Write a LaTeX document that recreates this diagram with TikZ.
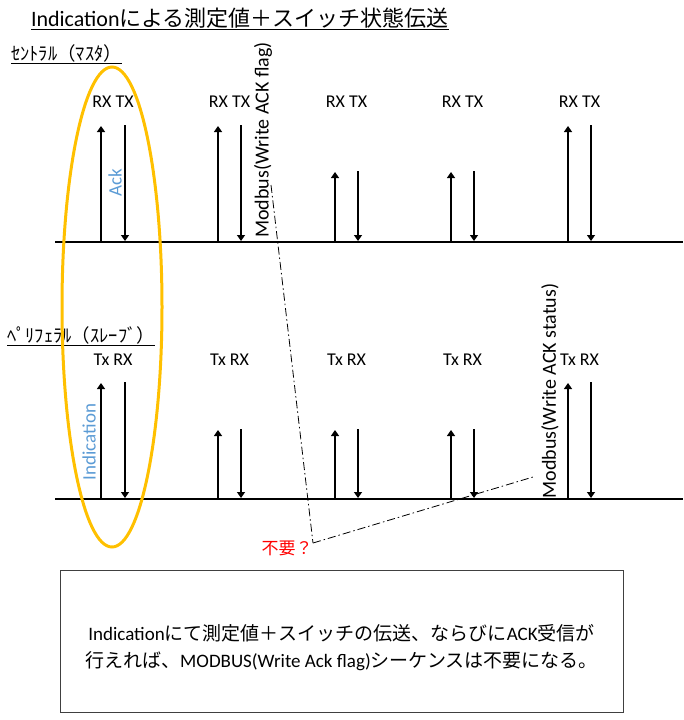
\documentclass[tikz,border=0pt]{standalone}
\usepackage{fontspec}
\setmainfont{Carlito}
\newfontfamily\jp{Noto Sans CJK JP}
\usetikzlibrary{arrows.meta}
\definecolor{ackblue}{HTML}{5B9BD5}
\definecolor{ovalorange}{HTML}{FFC000}
\tikzset{
  axisline/.style={line width=1.4pt},
  sig/.style={line width=1.3pt,-{Triangle[width=8pt,length=6pt]}},
  pairlbl/.style={font=\fontsize{18}{20}\selectfont,inner sep=0pt},
  rotlbl/.style={font=\fontsize{20}{22}\selectfont,rotate=90,inner sep=0pt},
  bluelbl/.style={font=\fontsize{19}{21}\selectfont,rotate=90,inner sep=0pt,text=ackblue},
  dashdot/.style={line width=0.8pt,dash pattern=on 8pt off 3pt on 1.5pt off 3pt},
  sidelbl/.style={font=\jp\fontsize{18.5}{20}\selectfont,inner sep=0pt,anchor=west},
}
\begin{document}
\begin{tikzpicture}[x=1pt,y=-1pt]
\useasboundingbox (0,0) rectangle (683,720);
% title
\node[font=\fontsize{22}{24}\selectfont,inner sep=0pt] (title) at (240,19) {\underline{Indication{\jp による測定値＋スイッチ状態伝送}}};
% side labels
\node[sidelbl] (central) at (11,54) {\underline{ｾﾝﾄﾗﾙ（ﾏｽﾀ）}};
\node[sidelbl] (periph) at (7,336) {\underline{ﾍﾟﾘﾌｪﾗﾙ（ｽﾚｰﾌﾞ）}};
% axes
\coordinate (ca) at (55,242); \coordinate (cb) at (683,242);
\coordinate (pa) at (55,499); \coordinate (pb) at (683,499);
\draw[axisline] (ca) -- (cb);
\draw[axisline] (pa) -- (pb);
% central pairs
\foreach \i/\u/\d/\t in {1/101/125/126,2/218/241/126,3/335/358/172,4/451/474/172,5/568/591/126}{
  \node[pairlbl] (crx\i) at ({(\u+\d)/2},102) {RX TX};
  \coordinate (cub\i) at (\u,242); \coordinate (cut\i) at (\u,\t);
  \coordinate (cdt\i) at (\d,\t-1); \coordinate (cdb\i) at (\d,241);
  \draw[sig] (cub\i) -- (cut\i);
  \draw[sig] (cdt\i) -- (cdb\i);
}
% peripheral pairs
\foreach \i/\u/\d/\t in {1/101/125/383,2/218/241/430,3/335/358/430,4/451/474/430,5/568/591/383}{
  \node[pairlbl] (ptx\i) at ({(\u+\d)/2},360) {Tx RX};
  \coordinate (pub\i) at (\u,499); \coordinate (put\i) at (\u,\t);
  \coordinate (pdt\i) at (\d,\t-1); \coordinate (pdb\i) at (\d,498);
  \draw[sig] (pub\i) -- (put\i);
  \draw[sig] (pdt\i) -- (pdb\i);
}
% blue labels
\node[bluelbl] (ack) at (115,183) {Ack};
\node[bluelbl] (ind) at (89,442) {Indication};
% modbus labels
\node[rotlbl] (mb1) at (263,140) {Modbus(Write ACK flag)};
\node[rotlbl] (mb2) at (550,391) {Modbus(Write ACK status)};
% oval
\draw[ovalorange,line width=3pt] (112,307) ellipse [x radius=50, y radius=240];
% not needed
\node[font=\jp\fontsize{17}{19}\selectfont,text=red,inner sep=0pt] (fuyo) at (287,548) {不要？};
\coordinate (m1) at (271,185);
\coordinate (q) at (313,543);
\coordinate (m2) at (533,477);
\draw[dashdot] (m1) -- (q);
\draw[dashdot] (q) -- (m2);
% note box
\node[draw=black!75,line width=0.8pt,minimum width=563pt,minimum height=142pt,inner sep=0pt] (note) at (341.5,641) {};
\node[align=center,font=\fontsize{19}{27}\selectfont,inner sep=0pt] (notetext) at (341.5,648)
 {Indication{\jp にて測定値＋スイッチの伝送、ならびに}ACK{\jp 受信が}\\{\jp 行えれば、}MODBUS(Write Ack flag){\jp シーケンスは不要になる。}};
\end{tikzpicture}
\end{document}
